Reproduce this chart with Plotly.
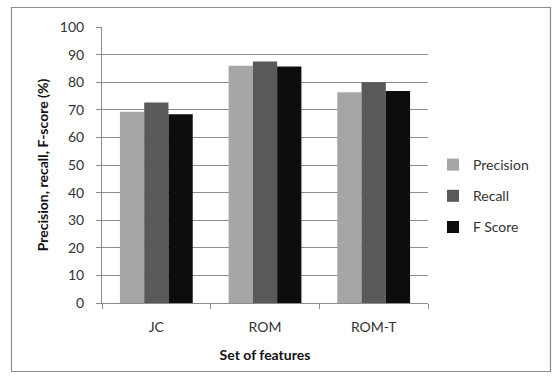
import plotly.graph_objects as go

categories = ["JC", "ROM", "ROM-T"]
precision = [69.3, 86.0, 76.4]
recall = [72.6, 87.5, 80.0]
f_score = [68.4, 85.7, 76.8]
y_ticks = [0, 10, 20, 30, 40, 50, 60, 70, 80, 90, 100]

W, H = 555, 376
L, R, T, B = 102, 127, 27, 73
FONT = "Lato, Calibri, Carlito, sans-serif"

fig = go.Figure()
series = [("Precision", precision, "#A6A6A6"),
          ("Recall", recall, "#595959"),
          ("F Score", f_score, "#0D0D0D")]
for name, vals, col in series:
    fig.add_trace(go.Bar(x=categories, y=vals, name=name, legendgroup=name,
                         marker=dict(color=col, line=dict(width=0))))

pw = W - L - R
ph = H - T - B
def px_to_paper_x(px):
    return (px - L) / pw
def px_to_paper_y(py):
    return (H - B - py) / ph

fig.add_shape(type="rect", xref="paper", yref="paper",
              x0=px_to_paper_x(11.5), x1=px_to_paper_x(550.5),
              y0=px_to_paper_y(371.5), y1=px_to_paper_y(7.5),
              line=dict(color="#8C8C8C", width=1.2), layer="below")

fig.update_layout(
    width=W, height=H,
    margin=dict(l=L, r=R, t=T, b=B, pad=0),
    paper_bgcolor="white", plot_bgcolor="white",
    barmode="group", bargap=0.33, bargroupgap=0,
    font=dict(family=FONT, size=14, color="#333333"),
    legend=dict(x=px_to_paper_x(433), xanchor="left",
                y=px_to_paper_y(196), yanchor="middle",
                traceorder="grouped", tracegroupgap=10,
                font=dict(family=FONT, size=14, color="#333333"),
                itemwidth=30, bgcolor="rgba(0,0,0,0)"),
    xaxis=dict(title=dict(text="<b>Set of features</b>", standoff=16,
                          font=dict(family=FONT, size=14, color="#111111")),
               showline=True, linecolor="#8C8C8C", linewidth=1,
               ticks="outside", tickson="boundaries", ticklen=5,
               tickcolor="#8C8C8C", tickfont=dict(size=14, color="#333333"),
               ticklabelstandoff=11,
               showgrid=False),
    yaxis=dict(title=dict(text="<b>Precision, recall, F-score (%)</b>", standoff=7,
                          font=dict(family=FONT, size=14, color="#111111")),
               range=[0, 100], tickvals=y_ticks, ticktext=[str(v) for v in y_ticks],
               showline=True, linecolor="#8C8C8C", linewidth=1,
               ticks="outside", ticklen=5, tickcolor="#8C8C8C",
               ticklabelstandoff=9,
               showgrid=True, gridcolor="#8C8C8C", gridwidth=1,
               zeroline=False, tickfont=dict(size=14, color="#333333")),
)

fig.write_html("out.html", config={"displayModeBar": False},
               post_script="document.body.style.margin='0';")
